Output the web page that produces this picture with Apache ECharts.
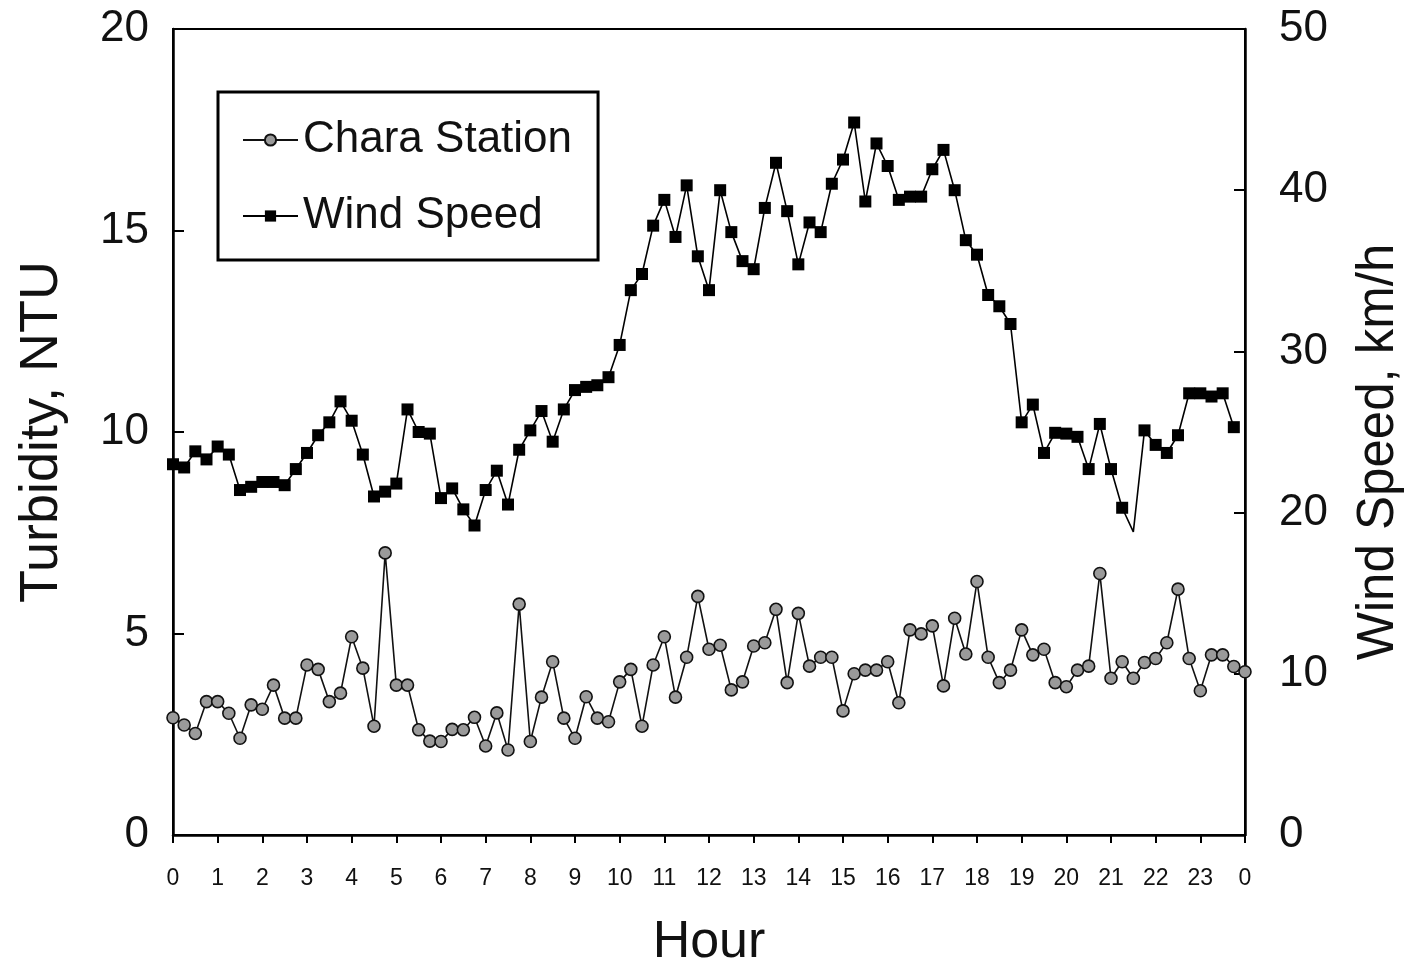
<!DOCTYPE html>
<html>
<head>
<meta charset="utf-8">
<script src="https://cdn.jsdelivr.net/npm/echarts@6/dist/echarts.min.js"></script>
<style>
html,body{margin:0;padding:0;background:#fff;}
#chart{width:1412px;height:967px;}
</style>
</head>
<body>
<div id="chart"></div>
<script>
// Hour ticks (labels shown on the x axis)
const hourTicks = [0,1,2,3,4,5,6,7,8,9,10,11,12,13,14,15,16,17,18,19,20,21,22,23,24];
const hourTickLabels = ['0','1','2','3','4','5','6','7','8','9','10','11','12','13','14','15','16','17','18','19','20','21','22','23','0'];

// Chara Station turbidity (NTU), every 15 minutes from 0:00 to 24:00
const charaTurbidity = [
  2.91,2.73,2.52,3.31,3.31,3.02,2.40,3.23,3.12,3.72,2.90,2.90,
  4.22,4.11,3.31,3.52,4.92,4.14,2.70,7.00,3.72,3.72,2.61,2.33,
  2.32,2.62,2.61,2.92,2.21,3.03,2.11,5.73,2.32,3.42,4.30,2.90,
  2.40,3.43,2.90,2.81,3.80,4.11,2.70,4.22,4.92,3.42,4.41,5.92,
  4.61,4.71,3.60,3.80,4.69,4.77,5.60,3.78,5.50,4.19,4.41,4.41,
  3.08,4.00,4.09,4.09,4.30,3.28,5.09,4.99,5.19,3.70,5.38,4.49,
  6.29,4.41,3.78,4.09,5.09,4.47,4.61,3.78,3.68,4.09,4.19,6.49,
  3.89,4.30,3.89,4.28,4.38,4.77,6.10,4.38,3.58,4.47,4.47,4.18,
  4.05
];

// Wind speed (km/h), every 15 minutes from 0:00 to 23:45
const windSpeed = [
  23.0,22.8,23.8,23.3,24.1,23.6,21.4,21.6,21.9,21.9,21.7,22.7,
  23.7,24.8,25.6,26.9,25.7,23.6,21.0,21.3,21.8,26.4,25.0,24.9,
  20.9,21.5,20.2,19.2,21.4,22.6,20.5,23.9,25.1,26.3,24.4,26.4,
  27.6,27.8,27.9,28.4,30.4,33.8,34.8,37.8,39.4,37.1,40.3,35.9,
  33.8,40.0,37.4,35.6,35.1,38.9,41.7,38.7,35.4,38.0,37.4,40.4,
  41.9,44.2,39.3,42.9,41.5,39.4,39.6,39.6,41.3,42.5,40.0,36.9,
  36.0,33.5,32.8,31.7,25.6,26.7,23.7,24.95,24.9,24.7,22.7,25.5,
  22.7,20.3,18.8,25.1,24.2,23.7,24.8,27.4,27.4,27.2,27.4,25.3
];
// indices of wind readings drawn without a marker
const windNoMarker = [86];

const step = 0.25; // hours between readings
const charaData = charaTurbidity.map((v,i)=>[i*step, v]);
const windData = windSpeed.map((v,i)=> windNoMarker.includes(i)
  ? {value:[i*step, v], symbol:'none'} : {value:[i*step, v]});

const FONT = "'Liberation Sans', Arial, Helvetica, sans-serif";

const chart = echarts.init(document.getElementById('chart'), null, {renderer:'canvas'});
chart.setOption({
  animation:false,
  backgroundColor:'#fff',
  grid:{left:173, right:167, top:29, bottom:132, containLabel:false, outerBoundsMode:'none',
    show:true, borderColor:'#000', borderWidth:2, backgroundColor:'transparent'},
  legend:{
    orient:'vertical', left:218, top:92,
    borderColor:'#000', borderWidth:3, borderRadius:0,
    padding:[26,26,22,24], itemGap:32, itemWidth:55, itemHeight:14,
    textStyle:{fontSize:44, color:'#111', fontFamily:FONT},
    data:['Chara Station','Wind Speed']
  },
  xAxis:{
    type:'value', min:0, max:24, interval:1,
    name:'Hour', nameLocation:'middle', nameGap:82,
    nameTextStyle:{fontSize:52, color:'#111', fontFamily:FONT},
    axisLine:{show:true, onZero:false, lineStyle:{color:'#000', width:2.5}},
    axisTick:{show:true, inside:false, length:8, lineStyle:{color:'#000', width:2}},
    axisLabel:{margin:32, fontSize:23, color:'#111', fontFamily:FONT,
      formatter:(v)=>{const k=hourTicks.indexOf(v); return k>=0?hourTickLabels[k]:'';}},
    splitLine:{show:false}
  },
  yAxis:[{
    type:'value', min:0, max:20, interval:5, position:'left',
    name:'Turbidity, NTU', nameLocation:'middle', nameGap:104, nameRotate:90,
    nameTextStyle:{fontSize:54, color:'#111', fontFamily:FONT},
    axisLine:{show:true, lineStyle:{color:'#000', width:2.5}},
    axisTick:{show:true, inside:true, length:11, lineStyle:{color:'#000', width:2}},
    axisLabel:{margin:24, fontSize:44, color:'#111', fontFamily:FONT},
    splitLine:{show:false}
  },{
    type:'value', min:0, max:50, interval:10, position:'right',
    name:'Wind Speed, km/h', nameLocation:'middle', nameGap:108, nameRotate:90,
    nameTextStyle:{fontSize:51, color:'#111', fontFamily:FONT, padding:[0,40,0,0]},
    axisLine:{show:true, lineStyle:{color:'#000', width:2.5}},
    axisTick:{show:true, inside:true, length:11, lineStyle:{color:'#000', width:2}},
    axisLabel:{margin:34, fontSize:44, color:'#111', fontFamily:FONT},
    splitLine:{show:false}
  }],
  series:[{
    name:'Chara Station', type:'line', yAxisIndex:0, data:charaData,
    symbol:'circle', symbolSize:12, showAllSymbol:true, clip:false,
    lineStyle:{color:'#111', width:1.6},
    itemStyle:{color:'#9a9a9a', borderColor:'#111', borderWidth:1.6}
  },{
    name:'Wind Speed', type:'line', yAxisIndex:1, data:windData,
    symbol:'rect', symbolSize:12, showAllSymbol:true, clip:false,
    lineStyle:{color:'#000', width:1.6},
    itemStyle:{color:'#000', borderColor:'#000', borderWidth:0}
  }]
});
</script>
</body>
</html>
